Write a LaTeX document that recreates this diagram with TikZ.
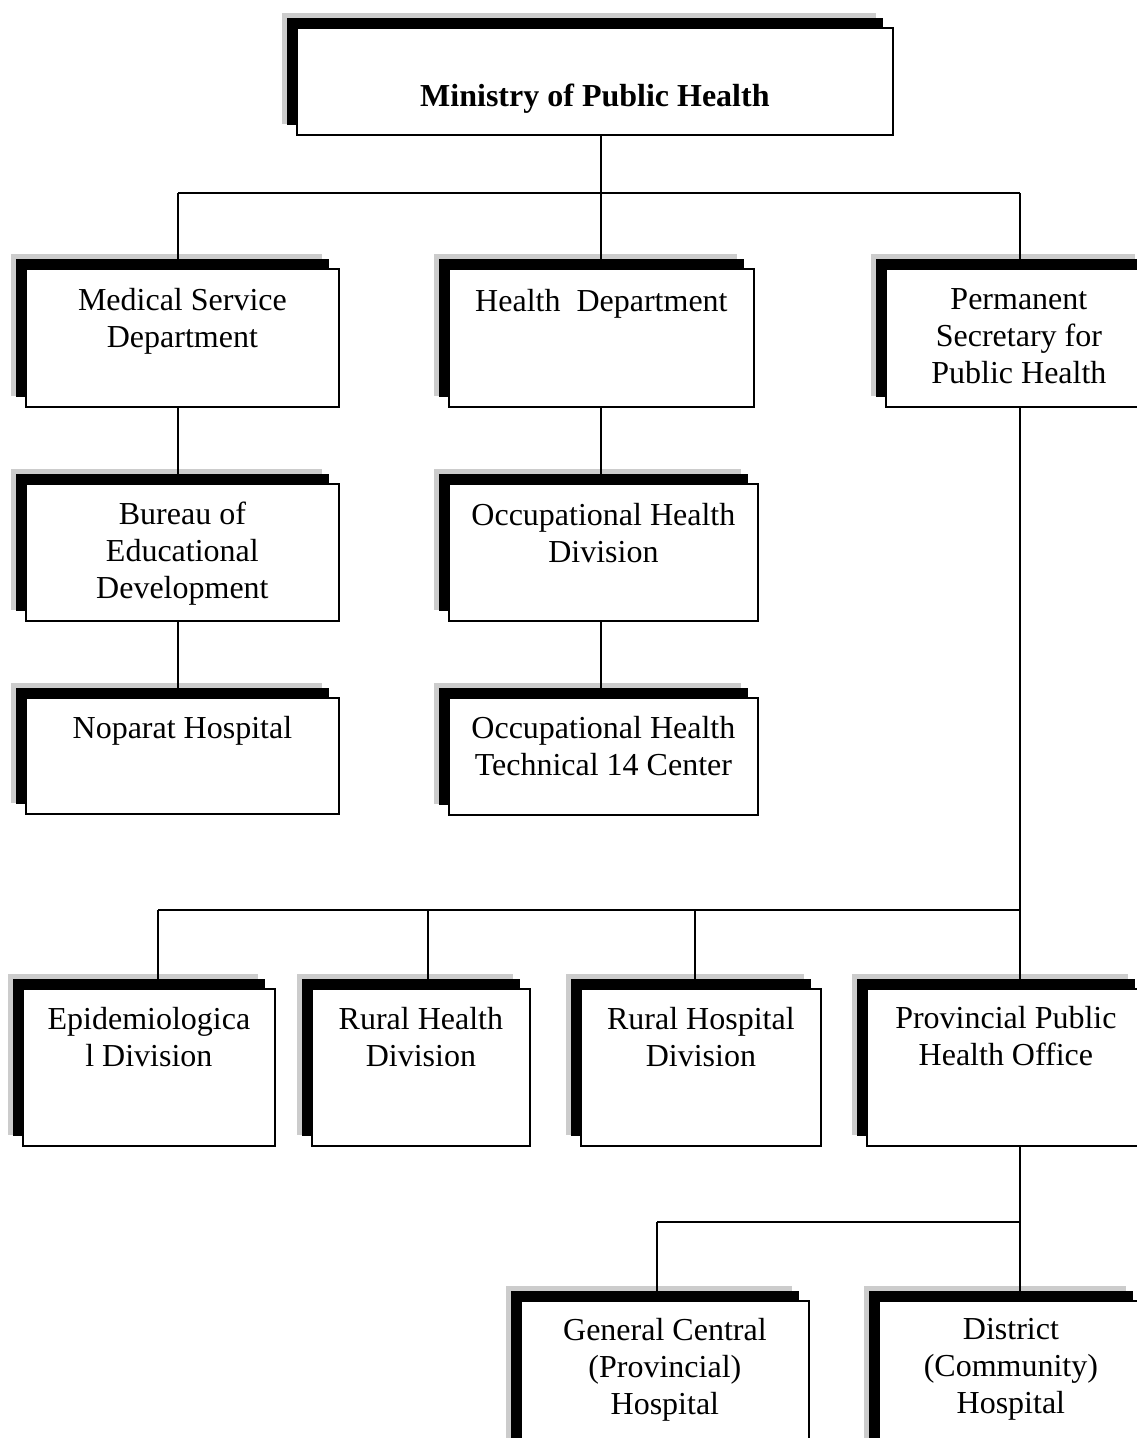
\documentclass[tikz,border=0pt]{standalone}
\usepackage{fontspec}
\setmainfont{Liberation Serif}
\usetikzlibrary{calc}
\tikzset{
  halo/.style={fill=gray!40},
  shade box/.style={fill=black},
  orgbox/.style={draw=black, line width=1.8pt, fill=white, inner sep=0pt, rectangle},
  orglabel/.style={inner sep=0pt, align=center, font=\fontsize{32}{37}\selectfont},
  conn/.style={draw=black, line width=1.8pt}
}
% #1 name, #2 left, #3 top, #4 right, #5 bottom, #6 text offset, #7 text
\newcommand\orgunit[7]{%
  \fill[halo] (#2-14,#3-14) rectangle (#4-16,#5-10);
  \fill[shade box] (#2-9,#3-9) rectangle (#4-9,#5-9);
  \node[orgbox, anchor=north west, minimum width=#4-#2, minimum height=#5-#3] (#1) at (#2,#3) {};
  \node[orglabel, anchor=north] (#1-t) at ($(#1.north)+(0,#6)$) {\strut #7};
}
\begin{document}
\begin{tikzpicture}[x=1pt,y=-1pt]
\useasboundingbox (0,0) rectangle (1137,1438);

\orgunit{min}{296}{27}{892}{134}{53}{\textbf{Ministry of Public Health}}

\orgunit{med}{25}{268}{338}{406}{16}{Medical Service\\Department}
\orgunit{hd}{448}{268}{753}{406}{17}{Health\ \ Department}
\orgunit{psec}{885}{268}{1151}{406}{15}{Permanent\\Secretary for\\Public Health}

\orgunit{bur}{25}{483}{338}{620}{15}{Bureau of\\Educational\\Development}
\orgunit{ohd}{448}{483}{757}{620}{16}{Occupational Health\\Division}

\orgunit{nop}{25}{697}{338}{813}{15}{Noparat Hospital}
\orgunit{oht}{448}{697}{757}{814}{15}{Occupational Health\\Technical 14 Center}

\orgunit{epi}{22}{988}{274}{1145}{15}{Epidemiologica\\l Division}
\orgunit{rhd}{311}{988}{529}{1145}{15}{Rural Health\\Division}
\orgunit{rhp}{580}{988}{820}{1145}{15}{Rural Hospital\\Division}
\orgunit{prov}{866}{988}{1144}{1145}{14}{Provincial Public\\Health Office}

\orgunit{gch}{520}{1300}{808}{1460}{14}{General Central\\(Provincial)\\Hospital}
\orgunit{dch}{878}{1300}{1142}{1460}{13}{District\\(Community)\\Hospital}

% junction points
\coordinate (t0) at (601,193);
\coordinate (t1) at (178,193);
\coordinate (t3) at (1020,193);
\coordinate (b1) at (158,910);
\coordinate (b2) at (428,910);
\coordinate (b3) at (695,910);
\coordinate (b4) at (1020,910);
\coordinate (c1) at (657,1222);
\coordinate (c2) at (1020,1222);

% connectors
\draw[conn] (t0 |- min.south) -- (t0);
\draw[conn] (t1) -- (t3);
\draw[conn] (t1) -- (t1 |- med.north);
\draw[conn] (t0) -- (t0 |- hd.north);
\draw[conn] (t3) -- (t3 |- psec.north);

\draw[conn] (t1 |- med.south) -- (t1 |- bur.north);
\draw[conn] (t1 |- bur.south) -- (t1 |- nop.north);
\draw[conn] (t0 |- hd.south) -- (t0 |- ohd.north);
\draw[conn] (t0 |- ohd.south) -- (t0 |- oht.north);

\draw[conn] (t3 |- psec.south) -- (t3 |- prov.north);
\draw[conn] (b1) -- (b4);
\draw[conn] (b1) -- (b1 |- epi.north);
\draw[conn] (b2) -- (b2 |- rhd.north);
\draw[conn] (b3) -- (b3 |- rhp.north);

\draw[conn] (c2 |- prov.south) -- (c2 |- dch.north);
\draw[conn] (c1) -- (c2);
\draw[conn] (c1) -- (c1 |- gch.north);
\end{tikzpicture}
\end{document}
